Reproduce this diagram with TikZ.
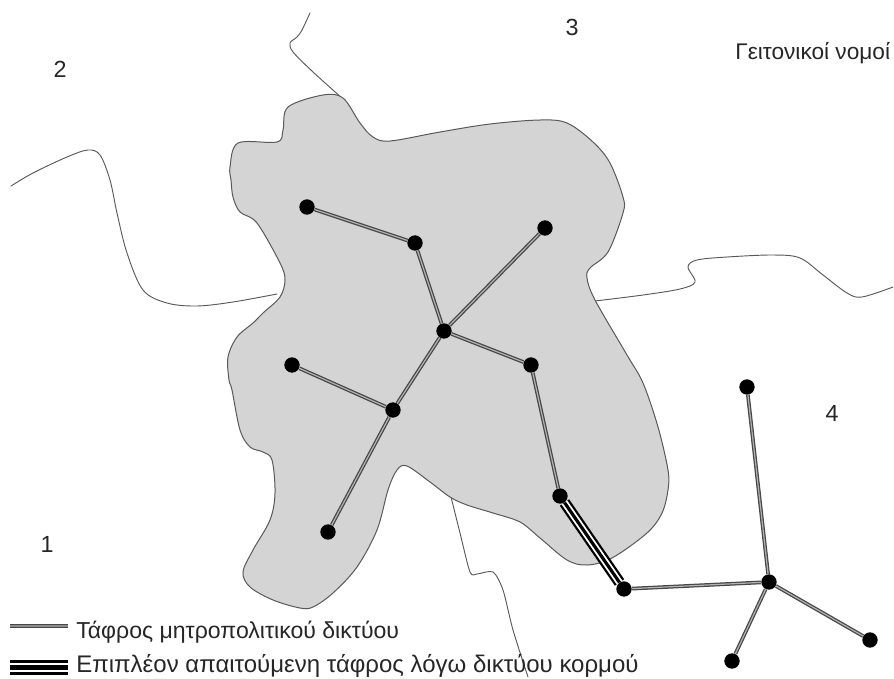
\documentclass[tikz,border=0pt]{standalone}
\usepackage{fontspec}
\setmainfont{Liberation Sans}
\tikzset{
  region/.style={draw=black!65,line width=0.75pt,fill=black!17},
  border/.style={draw=black!65,line width=0.7pt,line join=round,line cap=round},
  station/.style={circle,fill=black,inner sep=0pt,minimum size=11.5pt},
  trench/.style={draw=black!72,line width=0.95pt,double=black!30,double distance=0.9pt},
  heavytrench/.style={draw=black,line width=#1,postaction={draw=white,line width=0.6*#1,postaction={draw=black,line width=0.28*#1}}},
  label/.style={inner sep=0pt,text=black!85,font=\fontsize{17.5pt}{19pt}\selectfont},
  legendtext/.style={anchor=base west,inner sep=0pt,text=black!85,font=\fontsize{#1}{19pt}\selectfont}
}
\begin{document}
\begin{tikzpicture}[x=0.75pt,y=-0.75pt]
\useasboundingbox (0,0) rectangle (894,679);
% borders between prefectures
\draw[border] plot[smooth,tension=0.55] coordinates {(11,186) (33,173) (67,157) (88,150) (100,155) (110,180) (117,213) (127,253) (143,290) (167,303) (197,306) (233,302) (277,294)};
\draw[border] plot[smooth,tension=0.5] coordinates {(310,13) (302,30) (297,37) (290,43) (293,52) (313,72) (343,99)};
\draw[border] plot[smooth,tension=0.55] coordinates {(595,301) (643,295) (680,289) (695,282) (688,267) (697,260) (727,257) (773,255) (800,258) (823,275) (847,293) (862,297) (893,287)};
\draw[border] plot[smooth,tension=0.45] coordinates {(451,497) (460,533) (470,572) (477,574) (493,572) (503,590) (513,630) (528,677)};
% metropolitan area
\draw[region] plot[smooth cycle,tension=0.55] coordinates {
(238,143) (277,142) (283,130) (288,107) (323,95) (343,98) (360,123) (373,137) (390,141) (440,132) (490,124) (540,120) (567,123) (593,142) (610,163) (623,197) (623,213) (608,252) (590,268) (587,278) (595,300) (627,355) (643,383) (658,427) (668,470) (668,490) (662,513) (647,533) (612,558) (587,565) (567,560) (540,538) (520,522) (493,513) (467,505) (450,497) (430,482) (407,466) (397,470) (388,490) (377,530) (357,567) (333,593) (313,607) (300,608) (273,600) (250,587) (243,572) (253,550) (270,520) (275,493) (272,460) (263,452) (250,447) (240,430) (232,390) (229,380) (228,357) (237,337) (253,323) (263,313) (280,297) (285,280) (280,263) (257,223) (240,212) (233,197) (231,180) (230,167)};
% stations
\node[station] (a) at (307,207) {};
\node[station] (b) at (415,243) {};
\node[station] (c) at (545,228) {};
\node[station] (d) at (444,331) {};
\node[station] (e) at (531,365) {};
\node[station] (f) at (292,365) {};
\node[station] (g) at (393,410) {};
\node[station] (h) at (328,532) {};
\node[station] (i) at (560,496) {};
\node[station] (j) at (624,589) {};
\node[station] (k) at (769,582) {};
\node[station] (l) at (747,387) {};
\node[station] (m) at (870,640) {};
\node[station] (n) at (732,661) {};
% trenches
\draw[trench] (a) -- (b);
\draw[trench] (b) -- (d);
\draw[trench] (c) -- (d);
\draw[trench] (d) -- (e);
\draw[trench] (d) -- (g);
\draw[trench] (f) -- (g);
\draw[trench] (g) -- (h);
\draw[trench] (e) -- (i);
\draw[trench] (j) -- (k);
\draw[trench] (k) -- (l);
\draw[trench] (k) -- (m);
\draw[trench] (k) -- (n);
\draw[heavytrench=8.5pt] (i) -- (j);
% labels
\node[label] (n1) at (47,544) {1};
\node[label] (n2) at (60,69) {2};
\node[label] (n3) at (572,27) {3};
\node[label] (n4) at (832,413) {4};
\node[legendtext=17pt] (title) at (735,59) {Γειτονικοί νομοί};
% legend
\coordinate (l1a) at (10,626);
\coordinate (l1b) at (68,626);
\coordinate (l2a) at (10,667.5);
\coordinate (l2b) at (68,667.5);
\draw[draw=black!72,line width=1pt,double=black!45,double distance=1.3pt] (l1a) -- (l1b);
\draw[heavytrench=11pt] (l2a) -- (l2b);
\node[legendtext=17.3pt] (t1) at (76,638) {Τάφρος μητροπολιτικού δικτύου};
\node[legendtext=18pt] (t2) at (76,672) {Επιπλέον απαιτούμενη τάφρος λόγω δικτύου κορμού};
\end{tikzpicture}
\end{document}
